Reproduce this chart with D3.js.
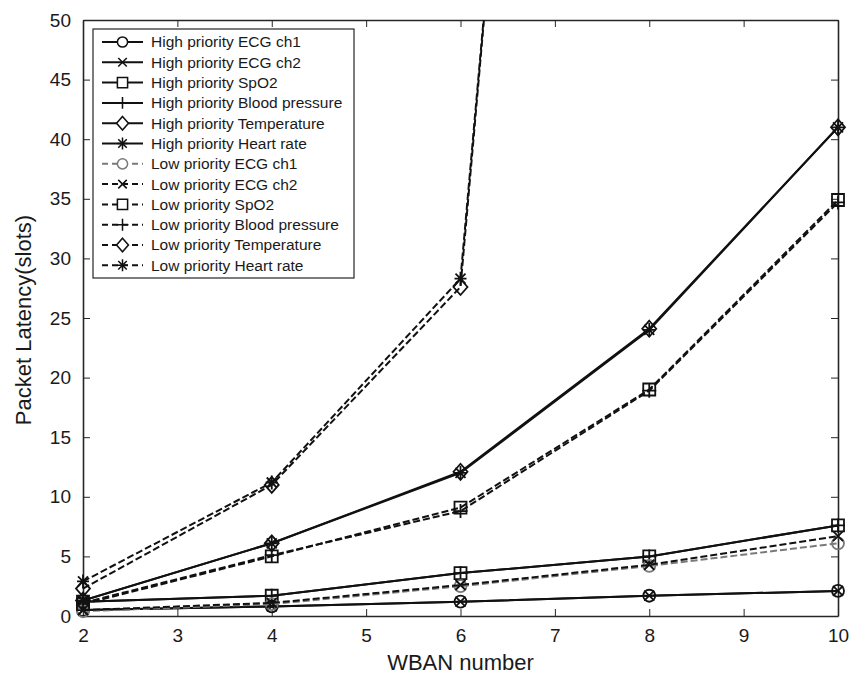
<!DOCTYPE html>
<html>
<head>
<meta charset="utf-8">
<script src="https://cdn.jsdelivr.net/npm/d3@7"></script>
<style>
  body { margin: 0; background: #fff; }
  text { font-family: "Liberation Sans", Arial, Helvetica, sans-serif; fill: #1a1a1a; }
</style>
</head>
<body>
<script>
// x values (WBAN number)
const wban = [2, 4, 6, 8, 10];

// series names, in legend order
const seriesNames = [
  "High priority ECG ch1", "High priority ECG ch2", "High priority SpO2",
  "High priority Blood pressure", "High priority Temperature", "High priority Heart rate",
  "Low priority ECG ch1", "Low priority ECG ch2", "Low priority SpO2",
  "Low priority Blood pressure", "Low priority Temperature", "Low priority Heart rate"
];

// packet latency (slots)
const highEcg1 = [0.5, 0.8, 1.2, 1.7, 2.1];
const highEcg2 = [0.5, 0.8, 1.2, 1.7, 2.1];
const highSpo2 = [1.2, 1.7, 3.6, 5.0, 7.6];
const highBp   = [1.2, 1.7, 3.6, 5.0, 7.6];
const highTemp = [1.3, 6.1, 12.1, 24.1, 41.0];
const highHr   = [1.3, 6.1, 12.0, 24.0, 41.0];
const lowEcg1  = [0.4, 1.0, 2.5, 4.2, 6.1];
const lowEcg2  = [0.5, 1.1, 2.6, 4.3, 6.7];
const lowSpo2  = [1.0, 5.0, 9.1, 19.0, 34.9];
const lowBp    = [1.1, 5.1, 8.8, 18.9, 34.7];
const lowTemp  = [2.3, 11.0, 27.6, 208, 400];
const lowHr    = [2.9, 11.2, 28.3, 206, 400];

const seriesValues = [highEcg1, highEcg2, highSpo2, highBp, highTemp, highHr,
                      lowEcg1, lowEcg2, lowSpo2, lowBp, lowTemp, lowHr];
const markerTypes = ["circle", "x", "square", "plus", "diamond", "star",
                     "circle", "x", "square", "plus", "diamond", "star"];

const xTicks = [2, 3, 4, 5, 6, 7, 8, 9, 10];
const yTicks = [0, 5, 10, 15, 20, 25, 30, 35, 40, 45, 50];

const W = 853, H = 676;
const plotLeft = 83, plotRight = 838, plotTop = 20, plotBottom = 616;

const svg = d3.select("body").append("svg")
  .attr("width", W)
  .attr("height", H);

const x = d3.scaleLinear().domain([2, 10]).range([plotLeft, plotRight]);
const y = d3.scaleLinear().domain([0, 50]).range([plotBottom, plotTop]);

// marker path around (0,0)
function markerPath(type) {
  const p = d3.path();
  if (type === "circle") {
    p.moveTo(6, 0); p.arc(0, 0, 6, 0, 2 * Math.PI);
  } else if (type === "x") {
    p.moveTo(-5, -5); p.lineTo(5, 5); p.moveTo(-5, 5); p.lineTo(5, -5);
  } else if (type === "square") {
    p.rect(-6, -6, 12, 12);
  } else if (type === "plus") {
    p.moveTo(-7, 0); p.lineTo(7, 0); p.moveTo(0, -7); p.lineTo(0, 7);
  } else if (type === "diamond") {
    p.moveTo(0, -8); p.lineTo(7, 0); p.lineTo(0, 8); p.lineTo(-7, 0); p.closePath();
  } else if (type === "star") {
    p.moveTo(-6, 0); p.lineTo(6, 0); p.moveTo(0, -7); p.lineTo(0, 7);
    p.moveTo(-5, -5); p.lineTo(5, 5); p.moveTo(-5, 5); p.lineTo(5, -5);
  }
  return p.toString();
}

const series = seriesNames.map((name, i) => ({
  name: name,
  values: seriesValues[i],
  marker: markerTypes[i],
  dashed: i >= 6,
  color: i === 6 ? "#7a7a7a" : "#111"
}));

svg.append("defs").append("clipPath")
  .attr("id", "plot-clip")
  .append("rect")
  .attr("x", plotLeft).attr("y", plotTop)
  .attr("width", plotRight - plotLeft).attr("height", plotBottom - plotTop);

const line = d3.line()
  .x((d, i) => x(wban[i]))
  .y(d => y(d));

series.forEach(s => {
  const g = svg.append("g");
  // lines are clipped to the axes box, markers are not
  g.append("path")
    .attr("clip-path", "url(#plot-clip)")
    .attr("d", line(s.values))
    .attr("fill", "none")
    .attr("stroke", s.color)
    .attr("stroke-width", 2)
    .attr("stroke-dasharray", s.dashed ? "7,3" : null);

  const pts = s.values.map((v, i) => ({ wban: wban[i], v: v })).filter(d => d.v <= 50);
  g.selectAll(".mk")
    .data(pts)
    .enter()
    .append("path")
    .attr("class", "mk")
    .attr("transform", d => `translate(${x(d.wban)},${y(d.v)})`)
    .attr("d", markerPath(s.marker))
    .attr("fill", "none")
    .attr("stroke", s.color)
    .attr("stroke-width", 1.8);
});

// axes, MATLAB style box with inward ticks
function styleAxis(g) {
  g.select(".domain").attr("stroke", "#262626").attr("stroke-width", 1.6);
  g.selectAll(".tick line").attr("stroke", "#262626").attr("stroke-width", 1);
  g.selectAll(".tick text")
    .style("font-family", "'Liberation Sans', Arial, sans-serif")
    .style("font-size", "19px")
    .attr("fill", "#1a1a1a");
}

const axesG = svg.insert("g", ":first-child");

axesG.append("g")
  .attr("transform", `translate(0,${plotBottom})`)
  .call(d3.axisBottom(x).tickValues(xTicks).tickSizeInner(-7).tickSizeOuter(0).tickPadding(13))
  .call(styleAxis);

axesG.append("g")
  .attr("transform", `translate(0,${plotTop})`)
  .call(d3.axisTop(x).tickValues(xTicks).tickSizeInner(-7).tickSizeOuter(0).tickFormat(""))
  .call(styleAxis);

axesG.append("g")
  .attr("transform", `translate(${plotLeft},0)`)
  .call(d3.axisLeft(y).tickValues(yTicks).tickSizeInner(-7).tickSizeOuter(0).tickPadding(12))
  .call(styleAxis);

axesG.append("g")
  .attr("transform", `translate(${plotRight},0)`)
  .call(d3.axisRight(y).tickValues(yTicks).tickSizeInner(-7).tickSizeOuter(0).tickFormat(""))
  .call(styleAxis);

// axis titles
svg.append("text")
  .attr("x", (plotLeft + plotRight) / 2)
  .attr("y", 670)
  .attr("text-anchor", "middle")
  .style("font-size", "22px")
  .text("WBAN number");

svg.append("text")
  .attr("transform", `translate(31,${(plotTop + plotBottom) / 2 + 2}) rotate(-90)`)
  .attr("text-anchor", "middle")
  .style("font-size", "22px")
  .text("Packet Latency(slots)");

// legend
const legend = svg.append("g");
legend.append("rect")
  .attr("x", 93).attr("y", 29)
  .attr("width", 261).attr("height", 249)
  .attr("fill", "#fff")
  .attr("stroke", "#262626")
  .attr("stroke-width", 1.2);

series.forEach((s, i) => {
  const ly = 42 + i * 20.3;
  const row = legend.append("g").attr("transform", `translate(0,${ly})`);
  row.append("line")
    .attr("x1", 102).attr("x2", 143)
    .attr("stroke", s.color)
    .attr("stroke-width", 2)
    .attr("stroke-dasharray", s.dashed ? "6,4" : null);
  row.append("path")
    .attr("transform", "translate(122.5,0) scale(0.85)")
    .attr("d", markerPath(s.marker))
    .attr("fill", "#fff")
    .attr("stroke", s.color)
    .attr("stroke-width", 1.8);
  row.append("text")
    .attr("x", 151)
    .attr("dy", "0.35em")
    .style("font-size", "15.5px")
    .text(s.name);
});
</script>
</body>
</html>
